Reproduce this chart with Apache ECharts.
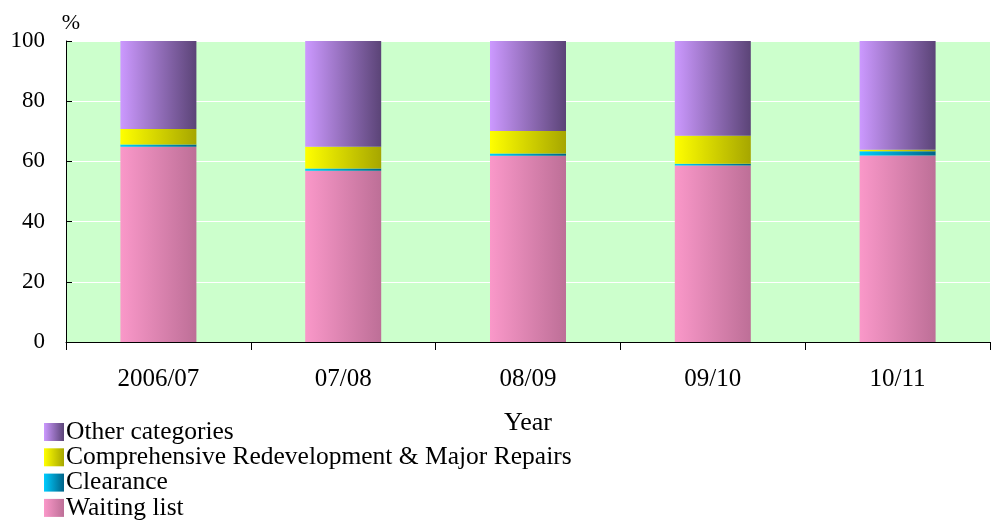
<!DOCTYPE html>
<html>
<head>
<meta charset="utf-8">
<script src="https://cdn.jsdelivr.net/npm/echarts@6/dist/echarts.min.js"></script>
<style>
  html, body { margin: 0; padding: 0; background: #fff; }
  #main { width: 991px; height: 520px; }
</style>
</head>
<body>
<div id="main"></div>
<script>
// values (percent of allocations)
var years = ['2006/07', '07/08', '08/09', '09/10', '10/11'];
var waitingList = [64.9, 56.9, 61.9, 58.6, 62.0];
var clearance = [0.7, 0.7, 0.7, 0.6, 1.4];
var redevelopment = [5.2, 7.3, 7.5, 9.3, 0.5];
var otherCats = [29.2, 35.1, 29.9, 31.5, 36.1];
var yTicks = [0, 20, 40, 60, 80, 100];

var serif = '"Liberation Serif", "DejaVu Serif", serif';

function grad(a, b) {
    return {
        type: 'linear', x: 0, y: 0, x2: 1, y2: 0,
        colorStops: [{ offset: 0, color: a }, { offset: 1, color: b }]
    };
}

var myChart = echarts.init(document.getElementById('main'));

var option = {
    animation: false,
    textStyle: { fontFamily: serif, color: '#000' },
    grid: {
        left: 66, right: 1, top: 41, bottom: 178,
        show: true, backgroundColor: '#ccffcc', borderWidth: 0
    },
    legend: {
        orient: 'vertical',
        left: 44, top: 419,
        height: 140,
        padding: 0,
        itemWidth: 20, itemHeight: 18,
        itemGap: -0.7,
        icon: 'rect',
        textStyle: { fontFamily: serif, fontSize: 25.5, color: '#000', padding: [0, 0, 0, -3] },
        data: ['Other categories', 'Comprehensive Redevelopment & Major Repairs', 'Clearance', 'Waiting list']
    },
    xAxis: {
        type: 'category',
        data: years,
        name: 'Year',
        nameLocation: 'middle',
        nameGap: 68,
        nameTextStyle: { fontFamily: serif, fontSize: 26, color: '#000' },
        axisLine: { lineStyle: { color: '#000', width: 1 } },
        axisTick: { show: true, inside: false, length: 8, lineStyle: { color: '#000' } },
        axisLabel: { fontFamily: serif, fontSize: 25, color: '#000', margin: 25 },
        splitLine: { show: false }
    },
    yAxis: {
        type: 'value',
        min: yTicks[0], max: yTicks[yTicks.length - 1], interval: 20,
        name: '%',
        nameLocation: 'end',
        nameGap: 7,
        nameTextStyle: { fontFamily: serif, fontSize: 22, color: '#000', padding: [0, 0, 0, 10] },
        axisLine: { show: true, lineStyle: { color: '#000', width: 1 } },
        axisTick: { show: true, inside: true, length: 6, lineStyle: { color: '#000' } },
        axisLabel: { fontFamily: serif, fontSize: 23, color: '#000', margin: 21 },
        splitLine: { show: true, lineStyle: { color: '#ffffff', width: 1 } }
    },
    series: [
        {
            name: 'Waiting list', type: 'bar', stack: 'all', barWidth: 76,
            itemStyle: { color: grad('#fa98c9', '#bd6f97') },
            data: waitingList
        },
        {
            name: 'Clearance', type: 'bar', stack: 'all', barWidth: 76,
            itemStyle: { color: grad('#00ccff', '#006388') },
            data: clearance
        },
        {
            name: 'Comprehensive Redevelopment & Major Repairs', type: 'bar', stack: 'all', barWidth: 76,
            itemStyle: { color: grad('#ffff00', '#a6a600') },
            data: redevelopment
        },
        {
            name: 'Other categories', type: 'bar', stack: 'all', barWidth: 76,
            itemStyle: { color: grad('#cc99ff', '#5b4477') },
            data: otherCats
        }
    ]
};

myChart.setOption(option);
</script>
</body>
</html>
